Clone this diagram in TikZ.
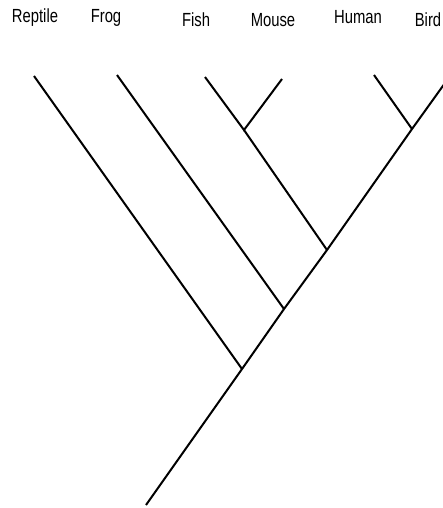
\documentclass[tikz,border=0pt]{standalone}
\usepackage{fontspec}
\newfontfamily\lblfont[FakeStretch=0.78]{Liberation Sans}
\begin{document}
\begin{tikzpicture}[x=1pt,y=-1pt,
  branch/.style={line width=2pt,black},
  taxon/.style={anchor=base,inner sep=0pt,font=\lblfont\fontsize{19}{22}\selectfont}]
\useasboundingbox (0,0) rectangle (442,508);
% labels
\node[taxon] (reptile) at (35,22.7) {Reptile};
\node[taxon] (frog) at (106,23) {Frog};
\node[taxon] (fish) at (196,26.5) {Fish};
\node[taxon] (mouse) at (273,26.5) {Mouse};
\node[taxon] (human) at (358,24) {Human};
\node[taxon] (bird) at (428,26.5) {Bird};
% tips
\coordinate (tR) at (34,76);
\coordinate (tF) at (117,75);
\coordinate (tFi) at (205,77);
\coordinate (tM) at (282,79);
\coordinate (tH) at (374,75);
\coordinate (tB) at (445,83);
% junctions
\coordinate (root) at (146,505);
\coordinate (jR) at (242,369);
\coordinate (jF) at (284,309);
\coordinate (jFi) at (327,250);
\coordinate (jFM) at (244,130);
\coordinate (jH) at (412,129);
% branches
\draw[branch] (root) -- (jR) -- (jF) -- (jFi) -- (jH) -- (tB);
\draw[branch] (tR) -- (jR);
\draw[branch] (tF) -- (jF);
\draw[branch] (jFM) -- (jFi);
\draw[branch] (tFi) -- (jFM) -- (tM);
\draw[branch] (tH) -- (jH);
\end{tikzpicture}
\end{document}
